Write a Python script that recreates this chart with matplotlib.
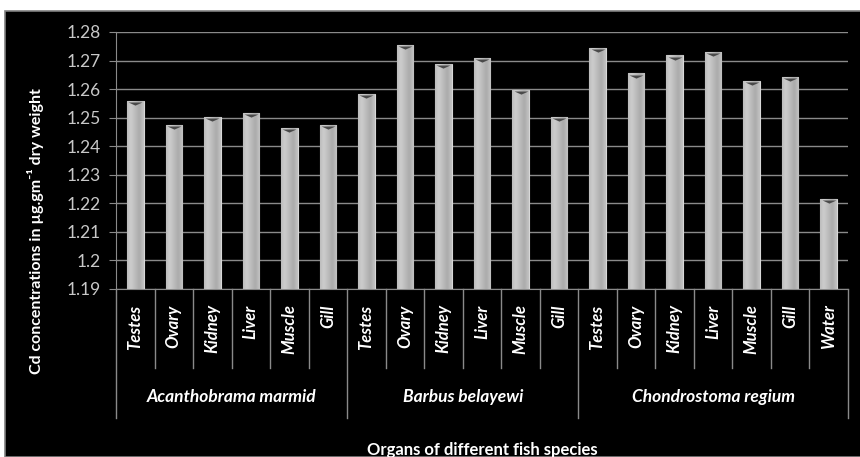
import numpy as np
import matplotlib
matplotlib.use('Agg')
import matplotlib.pyplot as plt
import matplotlib.patches as mpatches
import matplotlib.transforms as mtransforms

plt.rcParams['font.family'] = ['Lato', 'DejaVu Sans']

species = ['Acanthobrama marmid', 'Barbus belayewi', 'Chondrostoma regium']
organs = [
    ['Testes', 'Ovary', 'Kidney', 'Liver', 'Muscle', 'Gill'],
    ['Testes', 'Ovary', 'Kidney', 'Liver', 'Muscle', 'Gill'],
    ['Testes', 'Ovary', 'Kidney', 'Liver', 'Muscle', 'Gill', 'Water'],
]
cd_values = [
    [1.2559, 1.2475, 1.2502, 1.2515, 1.2463, 1.2475],
    [1.2584, 1.2756, 1.2688, 1.2709, 1.2597, 1.2502],
    [1.2744, 1.2655, 1.2718, 1.2729, 1.2630, 1.2642, 1.2216],
]
yticks = [1.19, 1.2, 1.21, 1.22, 1.23, 1.24, 1.25, 1.26, 1.27, 1.28]
ytick_labels = ['1.19', '1.2', '1.21', '1.22', '1.23', '1.24', '1.25', '1.26', '1.27', '1.28']

labels = [o for grp in organs for o in grp]
values = [v for grp in cd_values for v in grp]
x = np.arange(len(values))
ymin = 1.19

fig = plt.figure(figsize=(8.6, 4.57), dpi=100, facecolor='white')
# black chart panel
panel = mpatches.Rectangle((5 / 860, 0), 1, 446 / 457, transform=fig.transFigure,
                           facecolor='black', edgecolor='#808080', linewidth=1.2, zorder=-10)
fig.patches.append(panel)

ax = fig.add_axes([116 / 860, 1 - 289 / 457, 732 / 860, 257 / 457])
ax.set_facecolor('black')

bw = 0.43
bars = ax.bar(x, [v - ymin for v in values], bottom=ymin, width=bw, color='#b4b4b4',
              edgecolor='#d8d8d8', linewidth=0.8, zorder=3)

# horizontal shading inside each bar
grad = np.array([[0.74, 0.80, 0.79, 0.76, 0.73, 0.70, 0.67, 0.70, 0.76]])
for b in bars:
    im = ax.imshow(grad, cmap='gray', vmin=0, vmax=1, aspect='auto',
                   extent=[b.get_x(), b.get_x() + b.get_width(), ymin, b.get_y() + b.get_height()],
                   zorder=3.5, interpolation='bicubic')
    im.set_clip_path(b)

# dark caps on the bar tops
cap = [(-1, 0), (1, 0), (0, -0.45), (-1, 0)]
cap_tr = mtransforms.offset_copy(ax.transData, fig=fig, x=0, y=-0.8, units='points')
ax.plot(x, values, linestyle='none', marker=cap, markersize=10, color='#4a4a4a',
        markeredgewidth=0, transform=cap_tr, zorder=4)

ax.set_xlim(-0.5, len(values) - 0.5)
ax.set_ylim(1.19, 1.28)
ax.set_yticks(yticks)
ax.set_yticklabels(ytick_labels)
ax.yaxis.grid(True, color='#8a8a8a', linewidth=1)
ax.set_axisbelow(True)
ax.tick_params(axis='y', colors='#8a8a8a', labelcolor='#c8c8c8', labelsize=12.5, length=5, pad=6)
ax.set_xticks([])
for side in ['top', 'right']:
    ax.spines[side].set_visible(False)
ax.spines['left'].set_color('#8a8a8a')
ax.spines['bottom'].set_color('#8a8a8a')

xt = ax.get_xaxis_transform()
# organ labels
for xi, lab in zip(x, labels):
    ax.text(xi, -0.06, lab, transform=xt, rotation=90, ha='center', va='top', color='white',
            fontsize=12, fontstyle='italic', fontweight='bold')

# dividers between organs and species
edges = np.arange(len(values) + 1) - 0.5
group_edges = [-0.5]
for grp in organs:
    group_edges.append(group_edges[-1] + len(grp))
for e in edges:
    low = -0.5 if e in group_edges else -0.307
    ax.plot([e, e], [0, low], transform=xt, color='#8a8a8a', linewidth=1, clip_on=False)

# species labels
for i, sp in enumerate(species):
    mid = (group_edges[i] + group_edges[i + 1]) / 2
    ax.text(mid, -0.42, sp, transform=xt, ha='center', va='center', color='white',
            fontsize=12.5, fontstyle='italic', fontweight='bold')

ax.text(0.5, -0.625, 'Organs of different fish species', transform=ax.transAxes, ha='center',
        va='center', color='white', fontsize=12, fontweight='bold')
fig.text(36 / 860, 1 - 231 / 457, 'Cd concentrations in µg.gm⁻¹ dry weight', rotation=90,
         ha='center', va='center', color='white', fontsize=11.5, fontweight='bold')

fig.savefig('out.png', dpi=100, facecolor='white')
